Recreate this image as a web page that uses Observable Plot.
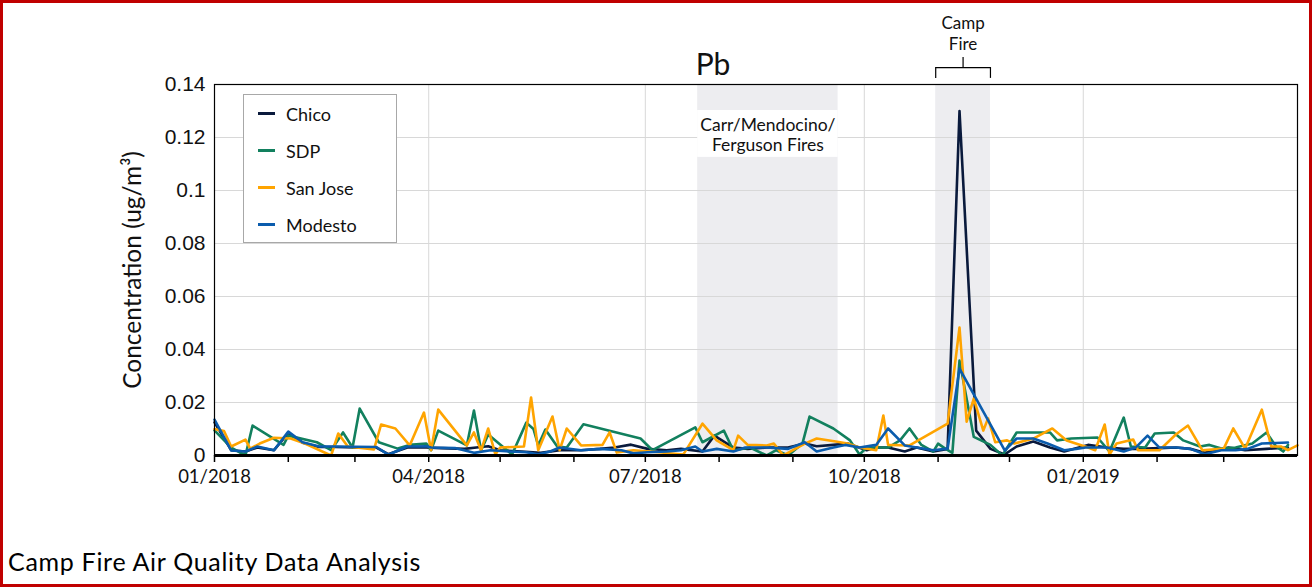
<!DOCTYPE html>
<html>
<head>
<meta charset="utf-8">
<script src="https://cdn.jsdelivr.net/npm/d3@7"></script>
<script src="https://cdn.jsdelivr.net/npm/@observablehq/plot@0.6"></script>
<style>
  body { margin: 0; background: #fff; }
  #wrap { position: relative; width: 1315px; height: 588px; overflow: hidden; background: #fff; }
  #chart { position: absolute; left: 0; top: 0; }
  #legend { position: absolute; left: 243px; top: 94px; width: 154px; height: 149px; box-sizing: border-box;
            border: 1px solid #a8a8a8; background: #fff; font-family: Lato, sans-serif; font-size: 18px; color: #111; }
  .lrow { position: absolute; left: 0; height: 24px; line-height: 24px; }
  .lsw { position: absolute; left: 14px; top: 10px; width: 17px; height: 3px; }
  .ltx { position: absolute; left: 42px; top: 0; white-space: nowrap; }
  #caption { position: absolute; left: 8px; top: 546px; font-family: Lato, sans-serif; font-size: 25px; letter-spacing: 0.7px; line-height: 30px; color: #000; white-space: nowrap; }
  #border { position: absolute; left: 0; top: 0; width: 1312px; height: 587px; box-sizing: border-box; border: 3px solid #c00000; pointer-events: none; }
</style>
</head>
<body>
<div id="wrap">
  <div id="chart"></div>
  <div id="legend"></div>
  <div id="caption">Camp Fire Air Quality Data Analysis</div>
  <div id="border"></div>
</div>
<script>
// ---- Data (Pb concentration, ug/m3) ----
const siteNames  = ["Chico", "SDP", "San Jose", "Modesto"];
const siteColors = ["#0a1a3c", "#12805e", "#ffa400", "#0b5cad"];

const chicoDates = ["2018-01-01","2018-01-08","2018-01-14","2018-01-19","2018-01-26","2018-02-01","2018-02-07","2018-02-14","2018-02-21","2018-03-01","2018-03-10","2018-03-15","2018-03-23","2018-03-31","2018-04-06","2018-04-16","2018-04-21","2018-04-26","2018-05-01","2018-05-10","2018-05-18","2018-05-26","2018-06-04","2018-06-12","2018-06-18","2018-06-25","2018-07-02","2018-07-10","2018-07-16","2018-07-25","2018-07-30","2018-08-07","2018-08-13","2018-08-21","2018-08-30","2018-09-06","2018-09-11","2018-09-18","2018-09-24","2018-10-02","2018-10-06","2018-10-11","2018-10-18","2018-10-23","2018-10-30","2018-11-05","2018-11-10","2018-11-17","2018-11-23","2018-11-29","2018-12-04","2018-12-11","2018-12-18","2018-12-24","2019-01-03","2019-01-11","2019-01-18","2019-01-25","2019-02-02","2019-02-09","2019-02-15","2019-02-21","2019-03-03","2019-03-10","2019-03-19","2019-03-28"];
const chicoValues = [.0125,.0020,.0015,.0030,.0020,.0085,.0048,.0032,.0032,.0030,.0030,.0005,.0030,.0030,.0028,.0025,.0030,.0035,.0020,.0015,.0010,.0020,.0020,.0025,.0030,.0041,.0025,.0020,.0025,.0015,.0075,.0030,.0025,.0030,.0030,.0045,.0035,.0040,.0045,.0020,.0030,.0030,.0015,.0030,.0015,.0025,.1300,.0094,.0025,.0004,.0034,.0053,.0030,.0015,.0040,.0030,.0025,.0025,.0028,.0030,.0025,.0010,.0030,.0020,.0025,.0030];

const sdpDates = ["2018-01-01","2018-01-08","2018-01-14","2018-01-17","2018-01-30","2018-02-01","2018-02-13","2018-02-19","2018-02-24","2018-02-28","2018-03-03","2018-03-11","2018-03-19","2018-03-24","2018-03-31","2018-04-02","2018-04-05","2018-04-17","2018-04-20","2018-04-23","2018-04-26","2018-05-02","2018-05-06","2018-05-12","2018-05-15","2018-05-17","2018-05-20","2018-05-25","2018-05-29","2018-06-05","2018-06-29","2018-07-04","2018-07-22","2018-07-25","2018-08-03","2018-08-07","2018-08-14","2018-08-21","2018-08-25","2018-08-30","2018-09-05","2018-09-08","2018-09-18","2018-09-25","2018-09-29","2018-10-02","2018-10-06","2018-10-11","2018-10-16","2018-10-20","2018-10-25","2018-10-30","2018-11-01","2018-11-04","2018-11-07","2018-11-10","2018-11-16","2018-11-23","2018-11-28","2018-12-04","2018-12-11","2018-12-18","2018-12-21","2018-12-27","2019-01-07","2019-01-12","2019-01-18","2019-01-21","2019-01-27","2019-01-31","2019-02-08","2019-02-12","2019-02-19","2019-02-23","2019-02-28","2019-03-06","2019-03-13","2019-03-19","2019-03-23","2019-03-26","2019-03-28"];
const sdpValues = [.0095,.0030,.0000,.0113,.0040,.0075,.0050,.0020,.0087,.0030,
                   .0177,.0050,.0026,.0040,.0045,.0020,.0094,.0038,.0170,.0019,
                   .0079,.0034,.0004,.0124,.0100,.0038,.0098,.0034,.0030,.0118,
                   .0064,.0020,.0106,.0050,.0094,.0019,.0030,.0000,.0020,.0000,
                   .0045,.0147,.0102,.0057,.0004,.0030,.0030,.0030,.0057,.0102,
                   .0040,.0015,.0045,.0026,.0010,.0358,.0070,.0040,.0000,.0087,
                   .0087,.0087,.0057,.0064,.0068,.0015,.0143,.0034,.0030,.0083,
                   .0087,.0057,.0034,.0040,.0026,.0030,.0045,.0087,.0034,.0015,.0040];

const sanJoseDates = ["2018-01-01","2018-01-05","2018-01-08","2018-01-14","2018-01-16","2018-01-20","2018-01-26","2018-02-02","2018-02-08","2018-02-19","2018-02-22","2018-02-26","2018-03-09","2018-03-12","2018-03-18","2018-03-24","2018-03-30","2018-04-02","2018-04-05","2018-04-17","2018-04-20","2018-04-23","2018-04-26","2018-04-29","2018-05-01","2018-05-11","2018-05-14","2018-05-17","2018-05-23","2018-05-26","2018-05-29","2018-06-04","2018-06-13","2018-06-16","2018-06-19","2018-06-26","2018-07-03","2018-07-17","2018-07-25","2018-07-31","2018-08-07","2018-08-09","2018-08-13","2018-08-21","2018-08-24","2018-08-28","2018-09-01","2018-09-06","2018-09-11","2018-09-19","2018-09-24","2018-09-29","2018-10-06","2018-10-09","2018-10-11","2018-10-20","2018-11-05","2018-11-10","2018-11-13","2018-11-16","2018-11-20","2018-11-22","2018-11-25","2018-11-30","2018-12-03","2018-12-11","2018-12-19","2018-12-25","2019-01-03","2019-01-06","2019-01-10","2019-01-12","2019-01-15","2019-01-22","2019-01-24","2019-02-02","2019-02-09","2019-02-14","2019-02-20","2019-03-01","2019-03-05","2019-03-10","2019-03-17","2019-03-21","2019-03-25","2019-03-28","2019-04-01"];
const sanJoseValues = [.0100,.0092,.0034,.0060,.0026,.0045,.0067,.0064,.0045,.0000,
                       .0083,.0034,.0023,.0117,.0102,.0038,.0162,.0020,.0173,.0038,
                       .0087,.0019,.0102,.0004,.0030,.0034,.0219,.0020,.0147,.0020,
                       .0102,.0038,.0040,.0087,.0011,.0020,.0015,.0004,.0120,.0057,
                       .0020,.0075,.0040,.0038,.0045,.0000,.0020,.0045,.0064,.0053,
                       .0045,.0030,.0020,.0151,.0040,.0038,.0120,.0483,.0128,.0215,
                       .0094,.0140,.0050,.0057,.0045,.0064,.0102,.0057,.0030,.0020,
                       .0117,.0004,.0045,.0060,.0020,.0020,.0080,.0113,.0020,.0026,
                       .0102,.0026,.0173,.0034,.0034,.0020,.0038];

const modestoDates = ["2018-01-01","2018-01-08","2018-01-14","2018-01-19","2018-01-26","2018-02-01","2018-02-07","2018-02-14","2018-02-21","2018-03-01","2018-03-10","2018-03-15","2018-03-23","2018-03-31","2018-04-02","2018-04-12","2018-04-20","2018-04-27","2018-05-05","2018-05-12","2018-05-17","2018-05-22","2018-05-26","2018-06-04","2018-06-12","2018-06-21","2018-06-26","2018-07-02","2018-07-10","2018-07-16","2018-07-22","2018-07-25","2018-07-31","2018-08-07","2018-08-12","2018-08-21","2018-08-30","2018-09-06","2018-09-11","2018-09-18","2018-09-23","2018-09-29","2018-10-06","2018-10-11","2018-10-18","2018-10-23","2018-10-30","2018-11-05","2018-11-10","2018-11-29","2018-12-04","2018-12-11","2018-12-17","2018-12-24","2018-12-29","2019-01-02","2019-01-11","2019-01-18","2019-01-23","2019-01-28","2019-02-02","2019-02-09","2019-02-15","2019-02-21","2019-02-28","2019-03-06","2019-03-11","2019-03-17","2019-03-28"];
const modestoValues = [.0135,.0019,.0015,.0034,.0020,.0090,.0050,.0034,.0034,.0033,
                       .0032,.0003,.0034,.0035,.0030,.0028,.0010,.0020,.0015,.0012,
                       .0005,.0015,.0030,.0020,.0025,.0020,.0008,.0012,.0015,.0020,
                       .0034,.0015,.0025,.0015,.0030,.0030,.0025,.0050,.0015,.0030,
                       .0040,.0030,.0040,.0102,.0038,.0030,.0020,.0026,.0328,.0019,
                       .0064,.0064,.0045,.0020,.0025,.0030,.0030,.0015,.0030,.0075,
                       .0030,.0030,.0025,.0005,.0020,.0020,.0025,.0045,.0049];

// Axis ticks
const yTicks = [0, 0.02, 0.04, 0.06, 0.08, 0.1, 0.12, 0.14];
const xLabelDates = ["2018-01-01","2018-04-01","2018-07-01","2018-10-01","2019-01-01"];
const xDomain = ["2018-01-01","2019-04-01"];

// Fire periods
const fireLabels = ["Carr/Mendocino/\nFerguson Fires", "Camp\nFire"];
const fireStarts = ["2018-07-23", "2018-10-31"];
const fireEnds   = ["2018-09-20", "2018-11-23"];

// ---- Build tables ----
const parse = s => new Date(s + "T00:00:00Z");
const seriesDates  = [chicoDates, sdpDates, sanJoseDates, modestoDates];
const seriesValues = [chicoValues, sdpValues, sanJoseValues, modestoValues];
const rows = siteNames.flatMap((name, k) =>
  seriesDates[k].map((d, i) => ({site: name, date: parse(d), value: seriesValues[k][i]})));

const fires = fireLabels.map((label, i) => {
  const start = parse(fireStarts[i]), end = parse(fireEnds[i]);
  return {label, start, end, mid: new Date((+start + +end) / 2)};
});
const carr = [fires[0]];
const camp = [fires[1]];

const x0 = parse(xDomain[0]), x1 = parse(xDomain[1]);
const labelTicks = xLabelDates.map(parse);
const monthTicks = d3.utcMonths(x0, x1);

const font = "Lato, 'Noto Sans', sans-serif";

const chart = Plot.plot({
  width: 1315,
  height: 500,
  marginLeft: 214,
  marginRight: 18,
  marginTop: 84,
  marginBottom: 45,
  style: {fontFamily: font, background: "transparent", overflow: "visible", color: "#111"},
  x: {type: "utc", domain: [x0, x1], label: null},
  y: {domain: [0, 0.14], label: null},
  color: {domain: siteNames, range: siteColors},
  marks: [
    Plot.rect(fires, {x1: "start", x2: "end", y1: 0, y2: 0.14, fill: "#ededf0"}),
    Plot.gridY(yTicks.slice(1, -1), {stroke: "#d8d8d8", strokeOpacity: 1, strokeWidth: 1}),
    Plot.gridX(labelTicks.slice(1), {stroke: "#d8d8d8", strokeOpacity: 1, strokeWidth: 1}),
    Plot.rect(carr, {x1: "start", x2: "end", y1: 0.1125, y2: 0.1302, fill: "#ffffff"}),
    Plot.text(carr, {x: "mid", y: 0.1210, text: "label", fontSize: 17.5, lineHeight: 1.15,
                     lineAnchor: "middle", fill: "#111", fontFamily: font}),
    Plot.line(rows, {x: "date", y: "value", z: "site", stroke: "site", strokeWidth: 2.6,
                     strokeLinejoin: "round", strokeLinecap: "round"}),
    Plot.frame({stroke: "#000", strokeWidth: 1.2}),
    Plot.ruleY([0], {stroke: "#000", strokeWidth: 3}),
    Plot.axisX({ticks: monthTicks, tickSize: 7, tickFormat: () => "", stroke: "#000", strokeWidth: 1.5}),
    Plot.axisX({ticks: labelTicks, tickSize: 0, tickPadding: 14, tickFormat: d3.utcFormat("%m/%Y"),
                fontSize: 18.5, fontFamily: font, fill: "#111"}),
    Plot.axisY({ticks: yTicks, tickSize: 0, tickPadding: 9, label: null,
                tickFormat: d => String(d), fontSize: 21, fontFamily: "'Liberation Sans', Arial, sans-serif", fill: "#111"}),
    // Camp Fire bracket above the frame
    Plot.link(camp, {x1: "start", x2: "end", y1: 0.1464, y2: 0.1464, stroke: "#000", strokeWidth: 1.2}),
    Plot.ruleX(camp, {x: "start", y1: 0.1423, y2: 0.1464, stroke: "#000", strokeWidth: 1.2}),
    Plot.ruleX(camp, {x: "end", y1: 0.1423, y2: 0.1464, stroke: "#000", strokeWidth: 1.2}),
    Plot.ruleX(camp, {x: "mid", y1: 0.1464, y2: 0.1502, stroke: "#000", strokeWidth: 1.2}),
    Plot.text(camp, {x: "mid", y: 0.14, dy: -51.5, text: "label", fontSize: 17, lineHeight: 1.25,
                     lineAnchor: "middle", fill: "#111", fontFamily: font}),
    // Panel title and y label
    Plot.text(["Pb"], {frameAnchor: "top", dx: -43, dy: -19, lineAnchor: "middle", fontSize: 30,
                       fontFamily: font, fill: "#111"}),
    Plot.text(["Concentration (ug/m³)"], {frameAnchor: "left", rotate: -90, dx: -81, lineAnchor: "middle",
                       textAnchor: "middle", fontSize: 24.5, fontFamily: font, fill: "#111"})
  ]
});
document.getElementById("chart").appendChild(chart);

// Legend
const legend = document.getElementById("legend");
siteNames.forEach((name, i) => {
  const row = document.createElement("div");
  row.className = "lrow";
  row.style.top = (7 + i * 37) + "px";
  row.style.width = "100%";
  row.innerHTML = `<span class="lsw" style="background:${siteColors[i]}"></span><span class="ltx">${name}</span>`;
  legend.appendChild(row);
});
</script>
</body>
</html>
